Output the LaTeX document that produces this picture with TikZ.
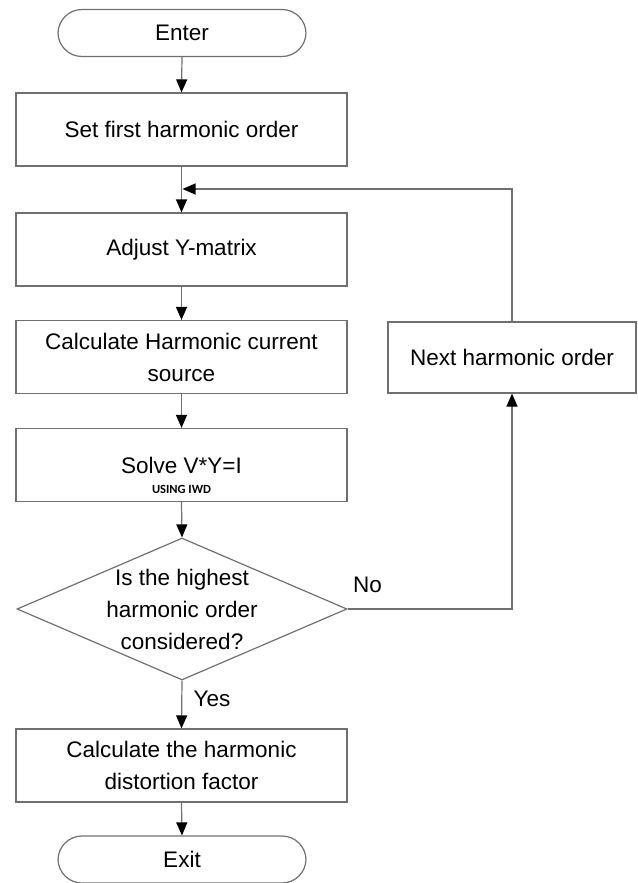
\documentclass[tikz,border=0pt]{standalone}
\usepackage{fontspec}
\setmainfont{Liberation Sans}
\newfontfamily\usingfont{Carlito}
\usetikzlibrary{arrows.meta,shapes.geometric}
\definecolor{linegray}{RGB}{112,112,112}
\begin{document}
\begin{tikzpicture}[x=1pt,y=-1pt,
  every node/.style={font=\fontsize{22.5}{32}\selectfont, text=black},
  proc/.style={draw=linegray, line width=1.2pt, rectangle, minimum width=331pt, minimum height=73pt, inner sep=0pt, align=center},
  term/.style={draw=linegray, line width=1.2pt, rectangle, rounded corners=24pt, minimum width=248pt, minimum height=47pt, inner sep=0pt},
  decision/.style={draw=linegray, line width=1.2pt, diamond, minimum width=330pt, minimum height=142pt, inner sep=0pt},
  arr/.style={draw=linegray, line width=1.2pt, -{Triangle[length=13pt,width=11pt,color=black]}},
  lbl/.style={inner sep=0pt}
]
\useasboundingbox (0,0) rectangle (637,883);
\node[term] (enter) at (182,33) {Enter};
\node[proc] (set) at (181.5,129.5) {Set first harmonic order};
\node[proc] (adjust) at (181.5,249.5) {Adjust Y-matrix};
\node[proc] (calc) at (181.5,357) {Calculate Harmonic current\\source};
\node[proc, label={[font=\usingfont\bfseries\fontsize{12.5}{14}\selectfont, yshift=-24pt]center:USING IWD}] (solve) at (181.5,465) {Solve V*Y=I};
\node[decision] (dec) at (182,609) {};
\node[lbl, align=center] (dectext) at (182,609) {Is the highest\\harmonic order\\considered?};
\node[proc] (dist) at (181.5,765.5) {Calculate the harmonic\\distortion factor};
\node[term] (exit) at (182,859.5) {Exit};
\node[draw=linegray, line width=1.2pt, rectangle, minimum width=248pt, minimum height=71pt, inner sep=0pt] (next) at (512,357.5) {Next harmonic order};
\coordinate (join) at (182.5,189);
\node[lbl] (no) at (367.5,585) {No};
\node[lbl] (yes) at (212,699) {Yes};
\draw[arr] (enter.south) -- (set.north);
\draw[arr] (set.south) -- (adjust.north);
\draw[arr] (next.north) |- (join);
\draw[arr] (adjust.south) -- (calc.north);
\draw[arr] (calc.south) -- (solve.north);
\draw[arr] (solve.south) -- (dec.north);
\draw[arr] (dec.east) -| (next.south);
\draw[arr] (dec.south) -- (dist.north);
\draw[arr] (dist.south) -- (exit.north);
\end{tikzpicture}
\end{document}
